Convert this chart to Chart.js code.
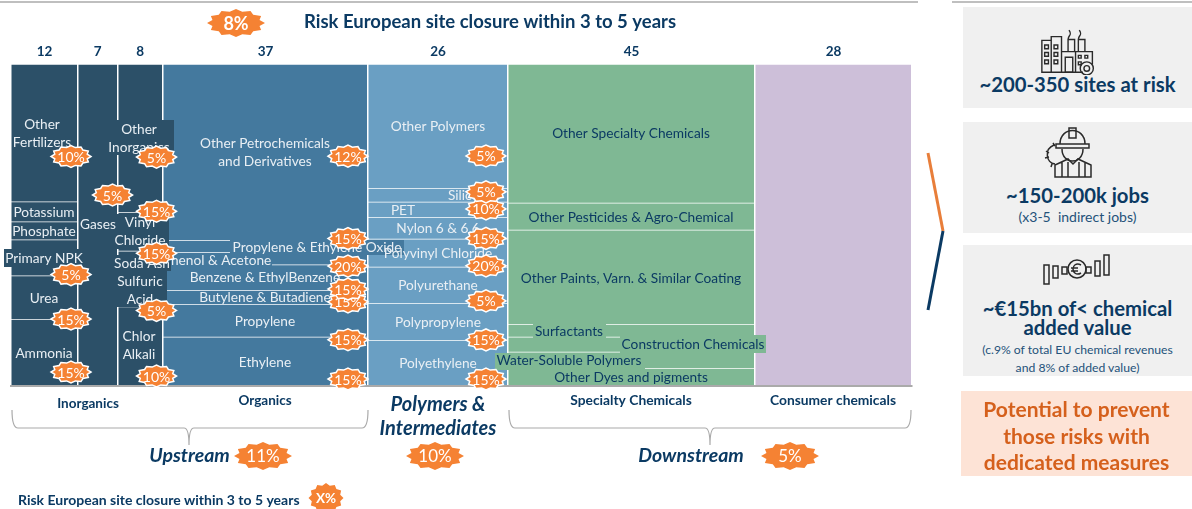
<!DOCTYPE html>
<html>
<head>
<meta charset="utf-8">
<title>Risk European site closure</title>
<script src="https://cdn.jsdelivr.net/npm/chart.js@4/dist/chart.umd.js"></script>
<style>
  html, body { margin: 0; padding: 0; background: #fff; overflow: hidden; }
  #page { position: relative; width: 1192px; height: 509px; font-family: Lato, sans-serif; color: #0b3a63; }
  #mekko { position: absolute; left: 0; top: 0; }
  .panel { position: absolute; left: 963px; width: 229px; background: #f0f0f0; }
  .line { position: absolute; left: 0; width: 100%; text-align: center; white-space: nowrap; transform: translateY(-50%); }
  .big { font-weight: 700; font-size: 20.3px; }
  .small { font-size: 14px; color: #24527a; }
  .action { font-weight: 700; font-size: 21px; color: #d5601c; }
  svg { position: absolute; fill: none; stroke: #2a2a2a; stroke-width: 1.5; }
</style>
</head>
<body>
<div id="page">
  <canvas id="mekko" width="1192" height="509"></canvas>

  <div class="panel" style="top:7px;height:101px">
    <svg style="left:77px;top:10px" width="58" height="58" viewBox="0 0 62 62">
      <path d="M2 25h10v34H2zM12 21h11v38H12zM23 37l15-0v22H23zM38 37h18v14M38 59h8"/>
      <path d="M30 37V24h7v13M41 37V24h7v13M30 24c0-5 5-4 1-10M41 24c0-5 5-4 1-10"/>
      <path d="M5 30h4v4H5zM5 38h4v4H5zM5 46h4v4H5zM15 30h4v4h-4zM15 38h4v4h-4zM15 46h4v4h-4z"/>
      <path d="M27 43h8v16h-8zM41 41h3v3h-3zM48 41h3v3h-3zM41 48h3v3h-3z"/>
      <circle cx="50" cy="55" r="7"/><circle cx="50" cy="55" r="3"/>
    </svg>
    <div class="line big" style="top:77px">~200-350 sites at risk</div>
  </div>

  <div class="panel" style="top:122px;height:111px">
    <svg style="left:80px;top:3px" width="56" height="56" viewBox="0 0 56 56">
      <path d="M17 19c0-18 25-18 25 0M13 19h33v4H13z"/>
      <path d="M26 3h7v10h-7zM19 24c0 16 21 16 21 0"/>
      <path d="M12 52V40l13-6 5 5 5-5 13 6v12zM19 37v15M42 37v15M25 37v15M36 37v15"/>
      <path d="M11 20c-10 4-8 18 1 19M3 26l3 2M2 33l4-1M8 42l1-3M10 18l2 3"/>
    </svg>
    <div class="line big" style="top:73px">~150-200k jobs</div>
    <div class="line small" style="top:94px">(x3-5&nbsp; indirect jobs)</div>
  </div>

  <div class="panel" style="top:245px;height:131px">
    <svg style="left:80px;top:8px" width="68" height="32" viewBox="0 0 68 32" stroke-width="1.6">
      <path d="M1 12h5v19H1zM10 13h5v12h-5zM19 14h5v7h-5zM43 14h5v6h-5zM52 8h5v15h-5zM61 2h5v20h-5z"/>
      <circle cx="34" cy="16" r="9"/>
      <path d="M38 12c-5-3-8 1-8 4s3 7 8 4M28 15h7M28 18h7"/>
    </svg>
    <div class="line big" style="top:63px">~€15bn of&lt; chemical</div>
    <div class="line big" style="top:82px">added value</div>
    <div class="line small" style="top:104px;font-size:12.2px">(c.9% of total EU chemical revenues</div>
    <div class="line small" style="top:122px;font-size:12.2px">and 8% of added value)</div>
  </div>

  <div class="panel" style="top:391px;height:85px;left:961px;width:231px;background:#fde3d6">
    <div class="line action" style="top:17px">Potential to prevent</div>
    <div class="line action" style="top:44px">those risks with</div>
    <div class="line action" style="top:70px">dedicated measures</div>
  </div>
</div>

<script>
const columnTotals = ['12', '7', '8', '37', '26', '45', '28']
const columnWidths = [12.12, 7.15, 8.23, 37.08, 25.33, 44.68, 28.41]

const fertilizerNames = ['Other Fertilizers', 'Potassium', 'Phosphate', 'Primary NPK', 'Urea', 'Ammonia']
const fertilizerShares = [42.7, 6.2, 5.6, 11.2, 13.5, 20.8]
const fertilizerRisk = [10, null, null, 5, 15, 15]

const gasNames = ['Gases']
const gasShares = [100]
const gasRisk = [5]

const inorganicNames = ['Other Inorganics', 'Vinyl Chloride', 'Soda Ash', 'Sulfuric Acid', 'Chlor Alkali']
const inorganicShares = [46, 12, 6.7, 10.6, 24.7]
const inorganicRisk = [5, 15, 15, 5, 10]

const organicNames = ['Other Petrochemicals and Derivatives', 'Propylene & Ethylene Oxide', 'Phenol & Acetone', 'Benzene & EthylBenzene', 'Butylene & Butadiene', 'Propylene', 'Ethylene']
const organicShares = [54.7, 3.7, 3.9, 7.9, 4.3, 10.2, 15.3]
const organicRisk = [12, 15, 20, 15, 15, 15, 15]

const polymerNames = ['Other Polymers', 'Silicones', 'PET', 'Nylon 6 & 6.6', 'Polyvinyl Chloride', 'Polyurethane', 'Polypropylene', 'Polyethylene']
const polymerShares = [38.5, 4.3, 4.7, 6.8, 8.7, 11.2, 11.5, 14.3]
const polymerRisk = [5, 5, 10, 15, 20, 5, 15, 15]

const specialtyNames = ['Other Specialty Chemicals', 'Other Pesticides & Agro-Chemical', 'Other Paints, Varn. & Similar Coating', 'Surfactants', 'Construction Chemicals', 'Water-Soluble Polymers', 'Other Dyes and pigments']
const specialtyShares = [43.1, 8.4, 29.3, 3.9, 4.7, 5, 5.6]
const specialtyRisk = [null, null, null, null, null, null, null]

const consumerNames = ['Consumer chemicals']
const consumerShares = [100]
const consumerRisk = [null]

const columnNames = [fertilizerNames, gasNames, inorganicNames, organicNames, polymerNames, specialtyNames, consumerNames]
const columnShares = [fertilizerShares, gasShares, inorganicShares, organicShares, polymerShares, specialtyShares, consumerShares]
const columnRisk = [fertilizerRisk, gasRisk, inorganicRisk, organicRisk, polymerRisk, specialtyRisk, consumerRisk]

// Styling and placement, kept apart from the values
const NAVY = '#0b3a63'
const ORANGE = '#f58233'
const LIGHT_TEXT = '#e9eff4'
const columnColors = ['#2c5068', '#2c5068', '#2c5068', '#44799e', '#6a9fc3', '#7fb894', '#cdbfd9']

// badge offset from (column right edge, segment bottom), one row per column
const badgeNudge = [
  { dx: -7, dy: [-45, 0, 0, -1, 0, -14] },
  { dx: -5, dy: [-191] },
  { dx: -6.5, dy: [-55, -39.5, -19, 4, -10] },
  { dx: -20, dy: [-84, -13.5, 1.5, -1, -2, 3, -7] },
  { dx: -22, dy: [-32, -10, -8, -0.5, -1, -2, 0, -7] }
]

// box = [left, top, right, bottom] patch behind the text, in the colour of the column
const labelLayout = [
  { name: 'Other Fertilizers', col: 0, lines: ['Other', 'Fertilizers'], x: 42, y: 124 },
  { name: 'Potassium', col: 0, x: 44, y: 212 },
  { name: 'Phosphate', col: 0, x: 44, y: 231 },
  { name: 'Primary NPK', col: 0, x: 44, y: 258, box: [4, 249, 84, 267] },
  { name: 'Urea', col: 0, x: 44, y: 298 },
  { name: 'Ammonia', col: 0, x: 44, y: 353 },
  { name: 'Other Petrochemicals and Derivatives', col: 3, lines: ['Other Petrochemicals', 'and Derivatives'], x: 265, y: 143 },
  { name: 'Phenol & Acetone', col: 3, x: 217, y: 260, box: [160, 254, 272, 268] },
  { name: 'Propylene & Ethylene Oxide', col: 3, x: 317, y: 247, box: [230, 240, 404, 255] },
  { name: 'Benzene & EthylBenzene', col: 3, x: 265, y: 277, box: [190, 268, 342, 288] },
  { name: 'Butylene & Butadiene', col: 3, x: 265, y: 297, box: [198, 291, 332, 304] },
  { name: 'Propylene', col: 3, x: 265, y: 321 },
  { name: 'Ethylene', col: 3, x: 265, y: 362 },
  { name: 'Other Inorganics', col: 2, lines: ['Other', 'Inorganics'], x: 139, y: 129, box: [108, 120, 174, 155] },
  { name: 'Vinyl Chloride', col: 2, lines: ['Vinyl', 'Chloride'], x: 140, y: 222, box: [116, 214, 169, 249] },
  { name: 'Soda Ash', col: 2, x: 142, y: 263, box: [112, 255, 171, 271] },
  { name: 'Sulfuric Acid', col: 2, lines: ['Sulfuric', 'Acid'], x: 140, y: 281, box: [113, 271, 167, 307] },
  { name: 'Chlor Alkali', col: 2, lines: ['Chlor', 'Alkali'], x: 139, y: 336 },
  { name: 'Gases', col: 1, x: 98, y: 224 },
  { name: 'Other Polymers', col: 4, x: 438, y: 126 },
  { name: 'Silicones', col: 4, x: 474, y: 195, box: [445, 189, 505, 201] },
  { name: 'PET', col: 4, x: 403, y: 210 },
  { name: 'Nylon 6 & 6.6', col: 4, x: 438, y: 228 },
  { name: 'Polyvinyl Chloride', col: 4, x: 438, y: 253, box: [404, 246, 491, 262] },
  { name: 'Polyurethane', col: 4, x: 438, y: 285 },
  { name: 'Polypropylene', col: 4, x: 438, y: 322 },
  { name: 'Polyethylene', col: 4, x: 438, y: 363 },
  { name: 'Other Specialty Chemicals', col: 5, dark: true, x: 631, y: 133 },
  { name: 'Other Pesticides & Agro-Chemical', col: 5, dark: true, x: 631, y: 217 },
  { name: 'Other Paints, Varn. & Similar Coating', col: 5, dark: true, x: 631, y: 278 },
  { name: 'Surfactants', col: 5, dark: true, x: 569, y: 331, box: [533, 322, 606, 340] },
  { name: 'Construction Chemicals', col: 5, dark: true, x: 693, y: 344, box: [620, 335, 766, 353] },
  { name: 'Water-Soluble Polymers', col: 5, dark: true, x: 569, y: 360, box: [495, 353, 645, 370] },
  { name: 'Other Dyes and pigments', col: 5, dark: true, x: 631, y: 377 }
]

const columnEdges = [0]
columnWidths.forEach(w => columnEdges.push(columnEdges[columnEdges.length - 1] + w))

// Every cell is a two point line with its fill down to the top of the cell below
const datasets = []
const segmentBottoms = []
columnNames.forEach((names, c) => {
  let top = 100
  segmentBottoms[c] = []
  names.forEach((name, i) => {
    const bottom = top - columnShares[c][i]
    datasets.push({
      label: name,
      data: [{ x: columnEdges[c], y: top }, { x: columnEdges[c + 1], y: top }],
      fill: { value: bottom },
      backgroundColor: columnColors[c],
      borderColor: '#ffffff',
      borderWidth: 1.5,
      pointRadius: 0,
      tension: 0
    })
    segmentBottoms[c][i] = bottom
    top = bottom
  })
})

const drawBadge = (ctx, cx, cy, w, h, text, font, outline) => {
  const points = 12
  ctx.beginPath()
  for (let i = 0; i < points * 2; i++) {
    const a = (i * Math.PI) / points
    const f = i % 2 === 0 ? 1 : 0.84
    const px = cx + (w / 2) * f * Math.cos(a)
    const py = cy + (h / 2) * f * Math.sin(a)
    if (i === 0) ctx.moveTo(px, py)
    else ctx.lineTo(px, py)
  }
  ctx.closePath()
  ctx.fillStyle = ORANGE
  ctx.fill()
  if (outline) {
    ctx.strokeStyle = '#ffffff'
    ctx.lineWidth = 1.5
    ctx.stroke()
  }
  ctx.fillStyle = '#ffffff'
  ctx.font = font
  ctx.textAlign = 'center'
  ctx.textBaseline = 'middle'
  ctx.fillText(text, cx, cy + 1)
}

const drawText = (ctx, text, x, y, font, color, align) => {
  ctx.font = font
  ctx.fillStyle = color
  ctx.textAlign = align || 'center'
  ctx.textBaseline = 'middle'
  ctx.fillText(text, x, y + 1)
}

const drawBrace = (ctx, left, right, tip) => {
  ctx.beginPath()
  ctx.moveTo(left, 410)
  ctx.quadraticCurveTo(left, 428, left + 6, 428)
  ctx.lineTo(tip - 5, 428)
  ctx.quadraticCurveTo(tip, 428, tip, 445)
  ctx.quadraticCurveTo(tip, 428, tip + 5, 428)
  ctx.lineTo(right - 6, 428)
  ctx.quadraticCurveTo(right, 428, right, 410)
  ctx.strokeStyle = '#aaaaaa'
  ctx.lineWidth = 1.2
  ctx.stroke()
}

const annotations = {
  id: 'annotations',
  afterDraw(chart) {
    const { ctx, scales } = chart
    ctx.save()

    // rules at the very top and the arrow next to the panels
    ctx.strokeStyle = '#aaaaaa'
    ctx.lineWidth = 1.5
    ctx.beginPath()
    ctx.moveTo(0, 2)
    ctx.lineTo(918, 2)
    ctx.moveTo(952, 2)
    ctx.lineTo(1192, 2)
    ctx.stroke()
    ctx.lineWidth = 3
    ctx.strokeStyle = '#e87e3a'
    ctx.beginPath()
    ctx.moveTo(928, 153)
    ctx.lineTo(943, 231)
    ctx.stroke()
    ctx.strokeStyle = NAVY
    ctx.beginPath()
    ctx.moveTo(943, 231)
    ctx.lineTo(928, 310)
    ctx.stroke()

    drawText(ctx, 'Risk European site closure within 3 to 5 years', 490, 21, '700 18.5px Lato', NAVY)
    drawBadge(ctx, 236, 23, 58, 28, '8%', '700 18px Lato', false)

    columnTotals.forEach((total, c) => {
      const mid = (columnEdges[c] + columnEdges[c + 1]) / 2
      drawText(ctx, total, scales.x.getPixelForValue(mid), 51, '700 13.5px Lato', NAVY)
    })

    labelLayout.forEach(l => {
      if (l.box) {
        ctx.fillStyle = columnColors[l.col]
        ctx.fillRect(l.box[0], l.box[1], l.box[2] - l.box[0], l.box[3] - l.box[1])
      }
      const lines = l.lines || [l.name]
      lines.forEach((t, i) => {
        drawText(ctx, t, l.x, l.y + i * 18, '400 13.7px Lato', l.dark ? NAVY : LIGHT_TEXT)
      })
    })

    badgeNudge.forEach((n, c) => {
      const right = scales.x.getPixelForValue(columnEdges[c + 1]) + n.dx
      for (let i = columnRisk[c].length - 1; i >= 0; i--) {
        if (columnRisk[c][i] === null) continue
        const cy = scales.y.getPixelForValue(segmentBottoms[c][i]) + n.dy[i]
        drawBadge(ctx, right, cy, 40, 22, columnRisk[c][i] + '%', '400 14px Lato', true)
      }
    })

    drawText(ctx, 'Inorganics', 88, 403, '700 13.5px Lato', NAVY)
    drawText(ctx, 'Organics', 265, 400, '700 13.5px Lato', NAVY)
    drawText(ctx, 'Specialty Chemicals', 631, 400, '700 13.8px Lato', NAVY)
    drawText(ctx, 'Consumer chemicals', 833, 400, '700 13.8px Lato', NAVY)
    drawText(ctx, 'Polymers &', 438, 404, 'italic 700 20px Lato', NAVY)
    drawText(ctx, 'Intermediates', 438, 428, 'italic 700 20px Lato', NAVY)

    drawBrace(ctx, 12, 368, 189)
    drawBrace(ctx, 509, 911, 710)

    drawText(ctx, 'Upstream', 189.5, 455, 'italic 700 19.5px Lato', NAVY)
    drawBadge(ctx, 263, 456, 58, 28, '11%', '400 17px Lato', false)
    drawBadge(ctx, 435, 456, 58, 28, '10%', '400 17px Lato', false)
    drawText(ctx, 'Downstream', 691, 455, 'italic 700 19.5px Lato', NAVY)
    drawBadge(ctx, 790, 456, 58, 28, '5%', '400 17px Lato', false)

    drawText(ctx, 'Risk European site closure within 3 to 5 years', 18, 499, '700 14px Lato', NAVY, 'left')
    drawBadge(ctx, 326, 498, 35, 30, 'X%', '700 13.5px Lato', false)

    ctx.restore()
  }
}

new Chart(document.getElementById('mekko'), {
  type: 'line',
  data: { datasets },
  options: {
    responsive: false,
    animation: false,
    layout: { padding: { left: 11, right: 280, top: 64, bottom: 123 } },
    plugins: { legend: { display: false }, tooltip: { enabled: false } },
    scales: {
      x: {
        type: 'linear',
        min: 0,
        max: columnEdges[columnEdges.length - 1],
        afterBuildTicks: scale => { scale.ticks = columnEdges.map(value => ({ value })) },
        afterFit: scale => { scale.height = 0 },
        ticks: { display: false },
        grid: { color: '#ffffff', lineWidth: 1.5, drawTicks: false, z: 1 },
        border: { display: true, color: '#aaaaaa', width: 2, z: 1 }
      },
      y: { display: false, min: 0, max: 100 }
    }
  },
  plugins: [annotations]
})
</script>
</body>
</html>
